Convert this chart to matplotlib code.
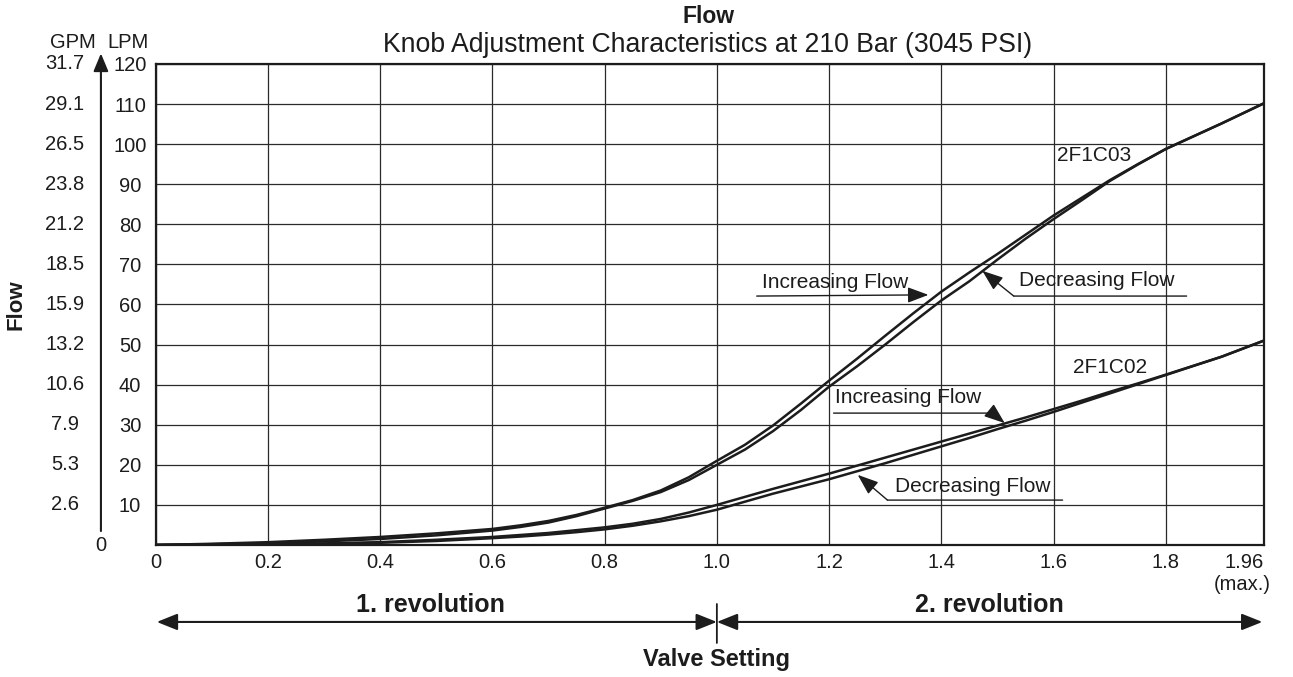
import matplotlib

matplotlib.use("Agg")
import matplotlib.pyplot as plt  # noqa: E402

plt.rcParams["font.family"] = ["Liberation Sans", "DejaVu Sans"]

# ---------------------------------------------------------------------------
# Data (flow in LPM vs valve setting in turns)
# ---------------------------------------------------------------------------

VALVE = [0.0, 0.1, 0.2, 0.3, 0.4, 0.5, 0.6, 0.65, 0.7, 0.75, 0.8, 0.85,
         0.9, 0.95, 1.0, 1.05, 1.1, 1.15, 1.2, 1.25, 1.3, 1.35, 1.4, 1.45,
         1.5, 1.55, 1.6, 1.65, 1.7, 1.75, 1.8, 1.9, 1.975]

C03_INC = [0.0, 0.3, 0.7, 1.3, 2.0, 2.9, 4.0, 4.9, 6.0, 7.5, 9.3, 11.2,
           13.6, 16.9, 21.0, 25.0, 29.8, 35.3, 41.0, 46.5, 52.2, 57.8, 63.2,
           68.0, 72.6, 77.4, 82.2, 86.6, 91.0, 95.0, 98.8, 105.2, 110.2]
C03_DEC = [0.0, 0.2, 0.45, 0.9, 1.5, 2.4, 3.6, 4.5, 5.6, 7.2, 9.1, 11.0,
           13.2, 16.2, 20.0, 23.8, 28.4, 33.7, 39.5, 44.6, 50.0, 55.6, 61.0,
           65.8, 71.2, 76.4, 81.3, 86.0, 90.8, 94.9, 98.8, 105.2, 110.2]

C02_INC = [0.0, 0.05, 0.2, 0.4, 0.7, 1.3, 2.0, 2.5, 3.0, 3.7, 4.4, 5.3,
           6.5, 8.1, 10.0, 12.0, 14.0, 15.9, 17.8, 19.8, 21.8, 23.8, 25.8,
           27.8, 29.8, 31.8, 33.9, 36.0, 38.2, 40.3, 42.5, 47.0, 51.0]
C02_DEC = [0.0, 0.03, 0.12, 0.3, 0.55, 1.0, 1.7, 2.1, 2.6, 3.2, 3.9, 4.8,
           5.9, 7.2, 8.8, 10.8, 12.8, 14.6, 16.4, 18.4, 20.4, 22.5, 24.6,
           26.7, 28.9, 31.0, 33.2, 35.5, 37.8, 40.1, 42.4, 47.0, 51.0]

LPM_TICKS = [10, 20, 30, 40, 50, 60, 70, 80, 90, 100, 110, 120]
GPM_LABELS = ["2.6", "5.3", "7.9", "10.6", "13.2", "15.9",
              "18.5", "21.2", "23.8", "26.5", "29.1", "31.7"]

X_TICKS = [0.0, 0.2, 0.4, 0.6, 0.8, 1.0, 1.2, 1.4, 1.6, 1.8]
X_TICK_LABELS = ["0", "0.2", "0.4", "0.6", "0.8", "1.0",
                 "1.2", "1.4", "1.6", "1.8"]
X_END = 1.975          # right edge of the chart, labelled as max setting
X_END_LABEL = "1.96"

INK = "#1c1c1c"
GRID = "#2a2a2a"

# ---------------------------------------------------------------------------
# Figure
# ---------------------------------------------------------------------------

fig = plt.figure(figsize=(12.93, 6.77), dpi=100)
ax = fig.add_axes([0.1204, 0.195, 0.8572, 0.7105])

ax.set_xlim(0, X_END)
ax.set_ylim(0, 120)

for y in (C03_INC, C03_DEC, C02_INC, C02_DEC):
    ax.plot(VALVE, y, color=INK, lw=1.8, solid_joinstyle="round")

# grid + spines
ax.set_xticks(X_TICKS + [X_END])
ax.set_xticklabels(X_TICK_LABELS + [X_END_LABEL], fontsize=14.5)
ax.set_yticks(LPM_TICKS)
ax.set_yticklabels([str(v) for v in LPM_TICKS], fontsize=14.5)
ax.grid(True, color=GRID, lw=0.9)
ax.tick_params(length=0, colors=INK)
ax.tick_params(axis="y", pad=18.5)
ax.tick_params(axis="x", pad=6)
for lbl in ax.get_yticklabels():
    lbl.set_ha("center")
ax.get_xticklabels()[-1].set_ha("right")
for spine in ax.spines.values():
    spine.set_linewidth(1.6)
    spine.set_color(INK)

# GPM scale on the far left
ytrans = ax.get_yaxis_transform()
for v, g in zip(LPM_TICKS, GPM_LABELS):
    ax.text(-0.082, v, g, transform=ytrans, ha="center", va="center",
            fontsize=14.5, color=INK, clip_on=False)

ax.annotate("", xy=(-0.0494, 1.022), xytext=(-0.0494, 0.029),
            xycoords="axes fraction", annotation_clip=False,
            arrowprops=dict(arrowstyle="-|>,head_length=0.6,head_width=0.25",
                            color=INK, lw=1.5, mutation_scale=18,
                            shrinkA=0, shrinkB=0))
ax.text(-0.0494, -0.002, "0", transform=ax.transAxes, ha="center",
        va="center", fontsize=14.5, color=INK)
ax.text(-0.0747, 1.044, "GPM", transform=ax.transAxes, ha="center",
        va="center", fontsize=14.5, color=INK)
ax.text(-0.025, 1.044, "LPM", transform=ax.transAxes, ha="center",
        va="center", fontsize=14.5, color=INK)

ax.text(-0.126, 0.5, "Flow", transform=ax.transAxes, rotation=90,
        ha="center", va="center", fontsize=16, fontweight="bold", color=INK)

# titles
fig.text(0.5476, 0.975, "Flow", ha="center", va="center", fontsize=16.5,
         fontweight="bold", color=INK)
fig.text(0.5476, 0.934, "Knob Adjustment Characteristics at 210 Bar (3045 PSI)",
         ha="center", va="center", fontsize=19.2, color=INK)

ax.annotate("(max.)", xy=(X_END, 0), xycoords="data",
            xytext=(7, -40), textcoords="offset pixels",
            ha="right", va="center", fontsize=14.5, color=INK,
            annotation_clip=False)

# ---------------------------------------------------------------------------
# Revolution arrows under the x axis
# ---------------------------------------------------------------------------

mixed = ("data", "axes fraction")
xtrans = ax.get_xaxis_transform()
rev_y = -0.160
arrow_kw = dict(arrowstyle="<|-|>,head_length=0.7,head_width=0.28",
                color=INK, lw=1.5, mutation_scale=18, shrinkA=0, shrinkB=0)
ax.annotate("", xy=(0.002, rev_y), xytext=(1.0, rev_y), xycoords=mixed,
            textcoords=mixed, annotation_clip=False, arrowprops=arrow_kw)
ax.annotate("", xy=(1.0, rev_y), xytext=(X_END - 0.003, rev_y),
            xycoords=mixed, textcoords=mixed, annotation_clip=False,
            arrowprops=arrow_kw)
ax.annotate("", xy=(1.0, -0.1227), xytext=(1.0, -0.2037), xycoords=mixed,
            textcoords=mixed, annotation_clip=False,
            arrowprops=dict(arrowstyle="-", color=INK, lw=1.3,
                            shrinkA=0, shrinkB=0))
ax.text(0.49, -0.1247, "1. revolution", transform=xtrans, ha="center",
        va="center", fontsize=18, fontweight="bold", color=INK)
ax.text(1.486, -0.1247, "2. revolution", transform=xtrans, ha="center",
        va="center", fontsize=18, fontweight="bold", color=INK)
ax.text(1.0, -0.239, "Valve Setting", transform=xtrans, ha="center",
        va="center", fontsize=17, fontweight="bold", color=INK)

# ---------------------------------------------------------------------------
# Curve annotations
# ---------------------------------------------------------------------------

tip_kw = dict(arrowstyle="-|>,head_length=0.8,head_width=0.3", color=INK,
              lw=1.0, mutation_scale=16, shrinkA=0, shrinkB=0)
line_kw = dict(arrowstyle="-", color=INK, lw=1.0, shrinkA=0, shrinkB=0)


def callout(text, text_xy, under_from, under_to, tip):
    """Underlined label with a leader arrow pointing at the curve."""
    ax.text(text_xy[0], text_xy[1], text, ha="left", va="center",
            fontsize=15, color=INK)
    ax.annotate("", xy=under_to, xytext=under_from, arrowprops=line_kw)
    start = under_from if tip[0] < under_from[0] else under_to
    ax.annotate("", xy=tip, xytext=start, arrowprops=tip_kw)


# 2F1C03 increasing: underline runs straight into the arrow
ax.text(1.080, 65.6, "Increasing Flow", ha="left", va="center", fontsize=15,
        color=INK)
ax.annotate("", xy=(1.377, 62.4), xytext=(1.071, 62.1), arrowprops=tip_kw)

callout("Decreasing Flow", (1.538, 65.9), (1.529, 62.1), (1.837, 62.1),
        (1.473, 68.4))
callout("Increasing Flow", (1.210, 36.7), (1.208, 32.9), (1.491, 32.9),
        (1.513, 30.4))
callout("Decreasing Flow", (1.317, 14.7), (1.304, 11.2), (1.616, 11.2),
        (1.251, 17.5))

ax.text(1.673, 97.1, "2F1C03", ha="center", va="center", fontsize=15,
        color=INK)
ax.text(1.700, 44.2, "2F1C02", ha="center", va="center", fontsize=15,
        color=INK)

fig.savefig("out.png", dpi=100, facecolor="white")
